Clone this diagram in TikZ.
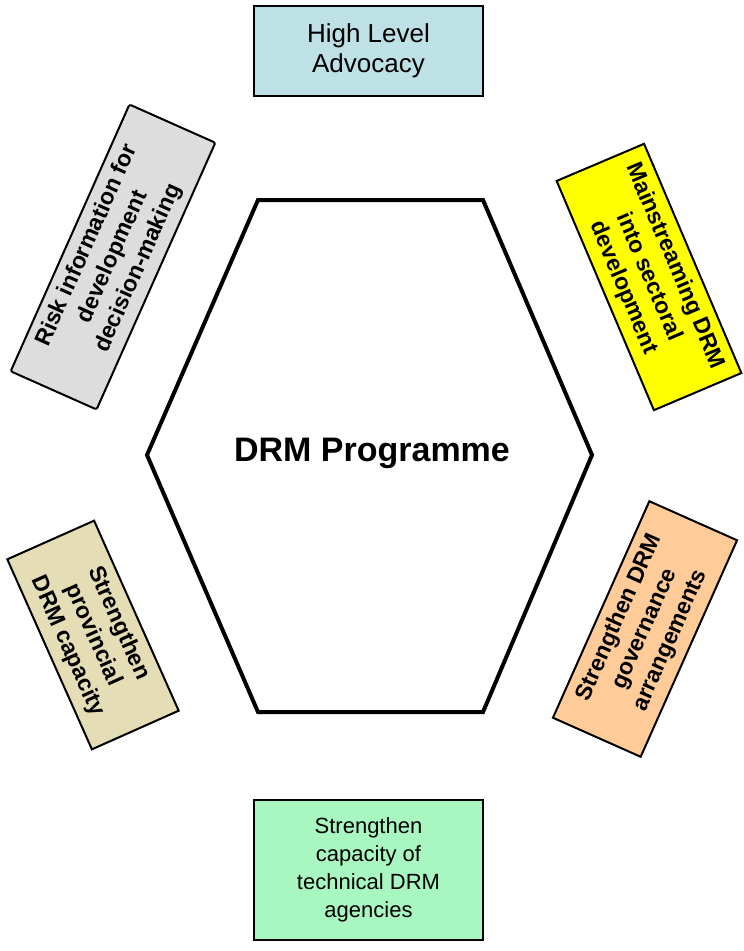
\documentclass[tikz,border=0pt]{standalone}
\usepackage{fontspec}
\setmainfont{Liberation Sans}
\definecolor{advblue}{RGB}{189,225,229}
\definecolor{riskgray}{RGB}{221,221,221}
\definecolor{mainyellow}{RGB}{255,255,0}
\definecolor{capbeige}{RGB}{229,221,181}
\definecolor{govorange}{RGB}{255,204,153}
\definecolor{techgreen}{RGB}{168,247,192}
\tikzset{
  box/.style={draw=black, line width=2pt, align=center, inner sep=2pt,
    font=\fontsize{26}{30}\selectfont},
  tiltbox/.style={box, font=\fontsize{23}{28}\selectfont\bfseries},
}
\begin{document}
\begin{tikzpicture}[x=1pt, y=-1pt]
    \useasboundingbox (0,0) rectangle (744,951);
    % Draw hexagon
    \draw [line width=4pt, line join=miter] (258,200) -- (483,200) -- (592,455)
        -- (483,712) -- (258,712) -- (147,455) -- cycle;
    \node [font=\fontsize{34}{40}\selectfont\bfseries] (prog) at (372,453) {DRM Programme};
    % Outer boxes
    \node [box, fill=advblue, minimum width=229pt, minimum height=90pt] (advocacy)
        at (368.5,51) {High Level\\Advocacy};
    \node [box, fill=techgreen, minimum width=229pt, minimum height=140pt,
        font=\fontsize{22}{28}\selectfont] (technical)
        at (368.5,870) {Strengthen\\capacity of\\technical DRM\\agencies};
    \node [tiltbox, fill=riskgray, rounded corners=2pt, rotate=66,
        minimum width=292pt, minimum height=94pt] (risk)
        at (113,257) {Risk information for\\development\\decision-making};
    \node [tiltbox, fill=mainyellow, rotate=-67,
        minimum width=249pt, minimum height=95pt] (mainstream)
        at (649,277) {Mainstreaming DRM\\into sectoral\\development};
    \node [tiltbox, fill=capbeige, rotate=-66,
        minimum width=208pt, minimum height=95pt] (capacity)
        at (93,635) {Strengthen\\provincial\\DRM capacity};
    \node [tiltbox, fill=govorange, rotate=66,
        minimum width=237pt, minimum height=96pt] (governance)
        at (645,629) {Strengthen DRM\\governance\\arrangements};
\end{tikzpicture}
\end{document}
